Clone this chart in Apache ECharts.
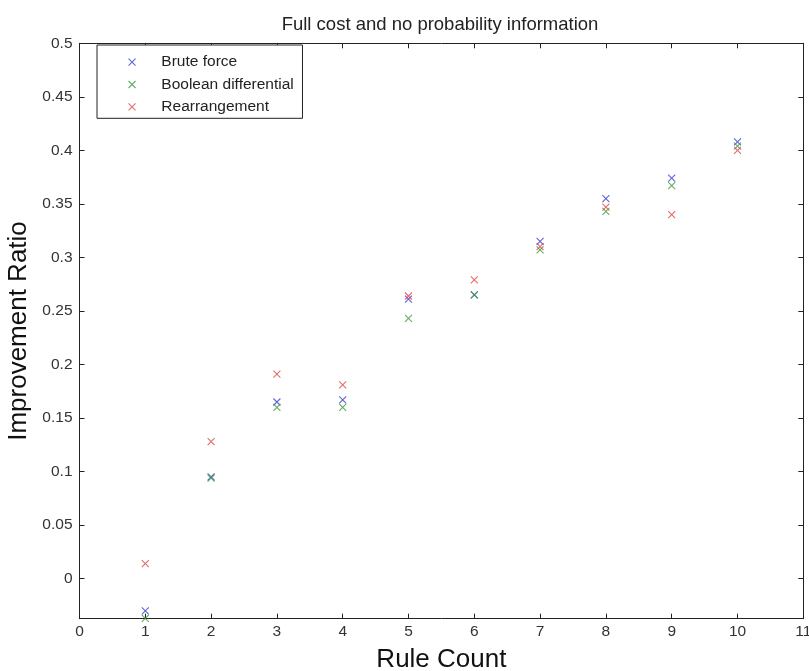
<!DOCTYPE html>
<html>
<head>
<meta charset="utf-8">
<script src="https://cdn.jsdelivr.net/npm/echarts@6/dist/echarts.min.js"></script>
<style>html,body{margin:0;padding:0;background:#fff;}#chart{width:809px;height:671px;}</style>
</head>
<body>
<div id="chart"></div>
<script>
var ruleCount = [1, 2, 3, 4, 5, 6, 7, 8, 9, 10];
var bruteForce = [-0.030, 0.095, 0.165, 0.167, 0.261, 0.265, 0.315, 0.355, 0.374, 0.408];
var booleanDiff = [-0.037, 0.094, 0.160, 0.160, 0.243, 0.265, 0.307, 0.343, 0.367, 0.404];
var rearrangement = [0.014, 0.128, 0.191, 0.181, 0.264, 0.279, 0.310, 0.347, 0.340, 0.400];
var seriesNames = ['Brute force', 'Boolean differential', 'Rearrangement'];
var xTicks = [0, 1, 2, 3, 4, 5, 6, 7, 8, 9, 10, 11];
var yTicks = [0, 0.05, 0.1, 0.15, 0.2, 0.25, 0.3, 0.35, 0.4, 0.45, 0.5];

var colors = ['#3b3bd2', '#3c9a3c', '#d94848'];
var xMark = 'path://M0,0L10,10M10,0L0,10';
var fontFam = '"Liberation Sans", Arial, sans-serif';

function mk(name, vals, c) {
  return {
    name: name,
    type: 'scatter',
    symbol: xMark,
    symbolSize: 7,
    itemStyle: { color: 'rgba(0,0,0,0)', borderColor: c, borderWidth: 1.1 },
    data: ruleCount.map(function (x, i) { return [x, vals[i]]; })
  };
}

var chart = echarts.init(document.getElementById('chart'));
var axisLine = { show: true, onZero: false, lineStyle: { color: '#222', width: 1 } };
var tickIn = { show: true, inside: true, length: 5, lineStyle: { color: '#222' } };
chart.setOption({
  animation: false,
  backgroundColor: '#fff',
  title: {
    text: 'Full cost and no probability information',
    left: 435, top: 10, textAlign: 'center',
    textStyle: { fontFamily: fontFam, fontSize: 18.5, fontWeight: 'normal', color: '#222' }
  },
  legend: {
    data: seriesNames.map(function (n, i) {
      return { name: n, icon: xMark, itemStyle: { color: 'rgba(0,0,0,0)', borderColor: colors[i], borderWidth: 1.1 } };
    }),
    orient: 'vertical',
    left: 97, top: 45,
    itemWidth: 48.6, itemHeight: 7, itemGap: 6.3,
    padding: [9.2, 8.7, 3.5, 31],
    borderColor: '#222', borderWidth: 1, backgroundColor: '#fff',
    textStyle: { fontFamily: fontFam, fontSize: 15.5, color: '#222', lineHeight: 16 }
  },
  grid: { left: 79.5, right: 5.7, top: 43.3, bottom: 52.3, containLabel: false, outerBoundsMode: 'none' },
  xAxis: [{
    type: 'value', min: 0, max: 11, interval: 1,
    name: 'Rule Count', nameLocation: 'middle', nameGap: 28,
    nameTextStyle: { fontFamily: fontFam, fontSize: 26, color: '#111' },
    axisLine: axisLine, axisTick: tickIn, splitLine: { show: false },
    axisLabel: { margin: 5, fontFamily: fontFam, fontSize: 15.5, color: '#333', customValues: xTicks }
  }, {
    type: 'value', position: 'top', min: 0, max: 11, interval: 1,
    axisLine: axisLine, axisTick: tickIn, axisLabel: { show: false }, splitLine: { show: false }
  }],
  yAxis: [{
    type: 'value', min: -0.0374, max: 0.5,
    name: 'Improvement Ratio', nameLocation: 'middle', nameGap: 44,
    nameTextStyle: { fontFamily: fontFam, fontSize: 26, color: '#111' },
    axisLine: axisLine,
    axisTick: { show: true, inside: true, length: 5, lineStyle: { color: '#222' }, customValues: yTicks },
    axisLabel: { margin: 7, fontFamily: fontFam, fontSize: 15.5, color: '#333', customValues: yTicks },
    splitLine: { show: false }
  }, {
    type: 'value', position: 'right', min: -0.0374, max: 0.5,
    axisLine: axisLine,
    axisTick: { show: true, inside: true, length: 5, lineStyle: { color: '#222' }, customValues: yTicks },
    axisLabel: { show: false }, splitLine: { show: false }
  }],
  series: [
    mk(seriesNames[0], bruteForce, colors[0]),
    mk(seriesNames[1], booleanDiff, colors[1]),
    mk(seriesNames[2], rearrangement, colors[2])
  ]
});
</script>
</body>
</html>
